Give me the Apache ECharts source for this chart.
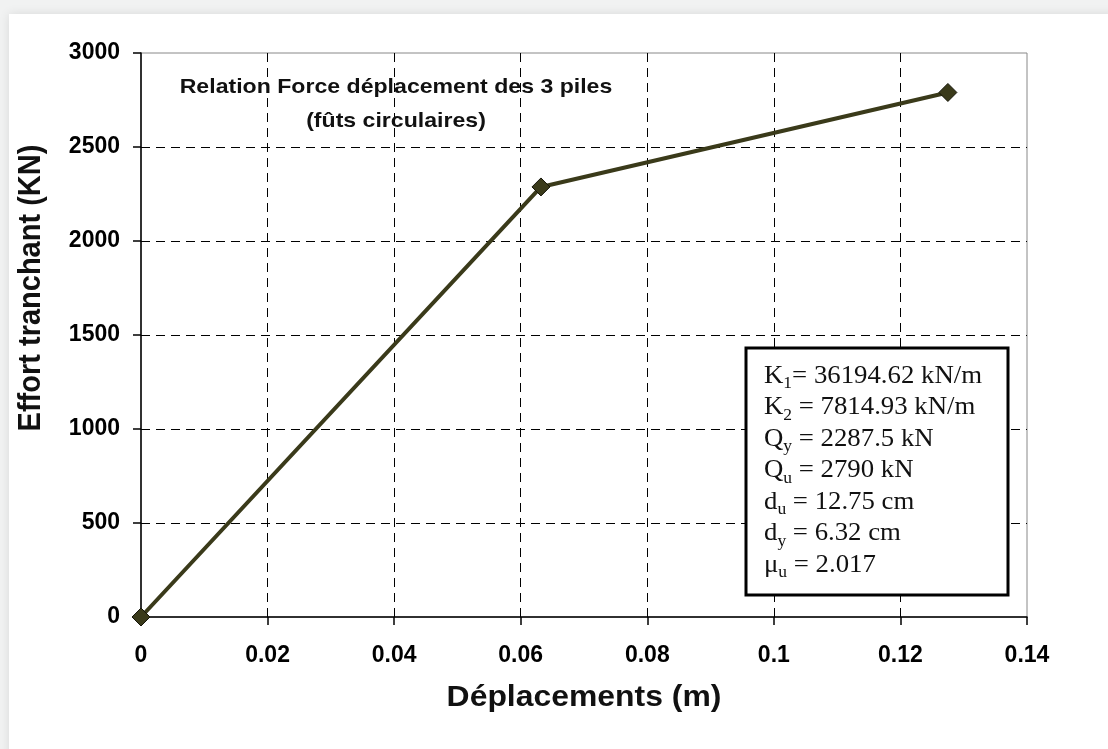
<!DOCTYPE html>
<html>
<head>
<meta charset="utf-8">
<script src="https://cdn.jsdelivr.net/npm/echarts@6/dist/echarts.min.js"></script>
<style>
  html, body { margin: 0; padding: 0; background: #f1f2f2; }
  #chart { width: 1108px; height: 749px; }
</style>
</head>
<body>
<div id="chart"></div>
<script>
// Force–displacement curve of the three piers (bilinear idealisation)
const displacements = [0, 0.0632, 0.1275];      // m
const shearForces   = [0, 2287.5, 2790];        // kN
const xTicks = { min: 0, max: 0.14, interval: 0.02 };
const yTicks = { min: 0, max: 3000, interval: 500 };

const chartTitle = ['Relation Force déplacement des 3 piles', '(fûts circulaires)'];
const xTitle = 'Déplacements (m)';
const yTitle = 'Effort tranchant (KN)';

// Parameters box: [symbol, subscript, rest of line]
const paramLines = [
  ['K', '1', '= 36194.62 kN/m'],
  ['K', '2', ' = 7814.93 kN/m'],
  ['Q', 'y', ' = 2287.5 kN'],
  ['Q', 'u', ' = 2790 kN'],
  ['d', 'u', ' = 12.75 cm'],
  ['d', 'y', ' = 6.32 cm'],
  ['\u03bc', 'u', ' = 2.017']
];

const lineColor = '#3a3a1a';
const sans = '"Liberation Sans", Arial, sans-serif';
const serif = '"Liberation Serif", "Times New Roman", serif';
const stretch = 1.1;   // text is slightly wider than tall in this layout

const chart = echarts.init(document.getElementById('chart'), null, { renderer: 'canvas' });

const paramText = paramLines.map(l => '{m|' + l[0] + '}{s|' + l[1] + '}{m|' + l[2] + '}').join('\n');

const option = {
  backgroundColor: '#f1f2f2',
  animation: false,
  grid: {
    left: 141, right: 81, top: 53, bottom: 132,
    show: true, borderColor: '#888888', borderWidth: 1, backgroundColor: '#ffffff'
  },
  xAxis: {
    type: 'value',
    min: xTicks.min, max: xTicks.max, interval: xTicks.interval,
    axisLine: { show: true, onZero: false, lineStyle: { color: '#000', width: 1.5 } },
    axisTick: { show: true, length: 8, lineStyle: { color: '#000', width: 1.5 } },
    axisLabel: {
      margin: 27, color: '#000', fontFamily: sans, fontWeight: 'bold', fontSize: 23,
      formatter: v => String(+v.toFixed(2))
    },
    splitLine: {
      show: true, showMinLine: false, showMaxLine: false,
      lineStyle: { color: '#000', width: 1, type: [9, 6] }
    }
  },
  yAxis: {
    type: 'value',
    min: yTicks.min, max: yTicks.max, interval: yTicks.interval,
    axisLine: { show: true, onZero: false, lineStyle: { color: '#000', width: 1.5 } },
    axisTick: { show: true, length: 8, lineStyle: { color: '#000', width: 1.5 } },
    axisLabel: {
      margin: 21, color: '#000', fontFamily: sans, fontWeight: 'bold', fontSize: 23,
      formatter: v => String(v)
    },
    splitLine: {
      show: true, showMinLine: false, showMaxLine: false,
      lineStyle: { color: '#000', width: 1, type: [9, 6] }
    }
  },
  graphic: [
    {
      type: 'rect', z: -10, silent: true,
      shape: { x: 9, y: 14, width: 1108, height: 760 },
      style: { fill: '#ffffff', shadowBlur: 10, shadowColor: 'rgba(0,0,0,0.10)' }
    },
    {
      type: 'text', z: 10, silent: true,
      x: 396, y: 70, scaleX: stretch,
      style: {
        text: chartTitle.join('\n'), align: 'center', verticalAlign: 'top',
        font: 'bold 21px ' + sans, fill: '#111', lineHeight: 34
      }
    },
    {
      type: 'text', z: 10, silent: true,
      x: 584, y: 698, scaleX: stretch,
      style: {
        text: xTitle, align: 'center', verticalAlign: 'middle',
        font: 'bold 29px ' + sans, fill: '#111'
      }
    },
    {
      type: 'text', z: 10, silent: true,
      x: 31, y: 288, rotation: Math.PI / 2, scaleY: stretch,
      style: {
        text: yTitle, align: 'center', verticalAlign: 'middle',
        font: 'bold 29px ' + sans, fill: '#111'
      }
    },
    {
      type: 'rect', z: 20, silent: true,
      shape: { x: 746, y: 348, width: 262, height: 247 },
      style: { fill: '#ffffff', stroke: '#000', lineWidth: 3 }
    },
    {
      type: 'text', z: 21, silent: true,
      x: 764, y: 360, scaleX: 1.03,
      style: {
        text: paramText, align: 'left', verticalAlign: 'top',
        rich: {
          m: { fontFamily: serif, fontSize: 26, lineHeight: 31.5, fill: '#111' },
          s: { fontFamily: serif, fontSize: 17, lineHeight: 31.5, fill: '#111', padding: [16, 0, 0, 0] }
        }
      }
    }
  ],
  series: [
    {
      type: 'line',
      data: displacements.map((d, i) => [d, shearForces[i]]),
      symbol: 'diamond',
      symbolSize: 18,
      lineStyle: { color: lineColor, width: 4 },
      itemStyle: { color: lineColor, borderColor: '#15150a', borderWidth: 1 },
      z: 5
    }
  ]
};

chart.setOption(option);
</script>
</body>
</html>
